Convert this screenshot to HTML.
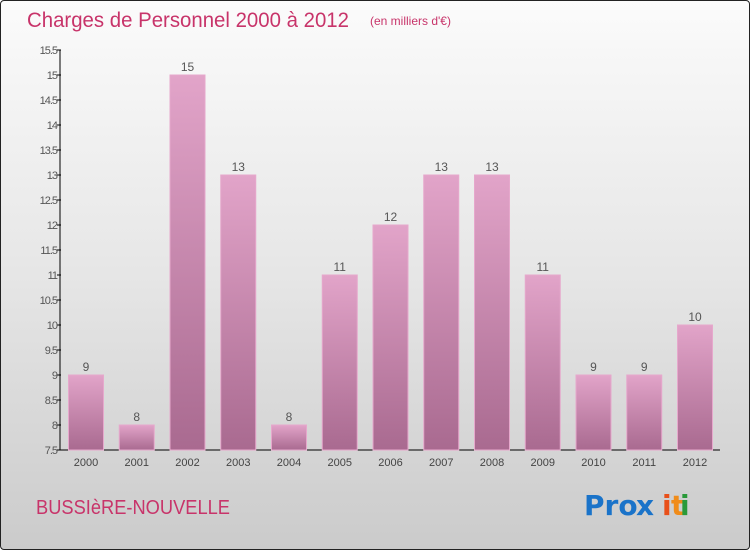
<!DOCTYPE html>
<html><head><meta charset="utf-8"><style>
body{margin:0;width:750px;height:550px;overflow:hidden;font-family:"Liberation Sans",sans-serif}
#wrap{position:absolute;left:0;top:0;width:748px;height:548px;border:1px solid #222;border-radius:4px;background:linear-gradient(#fbfbfb,#e6e6e6 50%,#cbcbcb)}
</style></head><body>
<div id="wrap">
<svg width="750" height="550" style="position:absolute;left:-1px;top:-1px">
<defs><linearGradient id="bg" x1="0" y1="0" x2="0" y2="1"><stop offset="0" stop-color="#e2a4c9"/><stop offset="1" stop-color="#a96a90"/></linearGradient></defs>
<text x="27" y="27" font-size="21" fill="#c8346a" textLength="322" lengthAdjust="spacingAndGlyphs">Charges de Personnel 2000 à 2012</text>
<text x="370" y="25" font-size="12" fill="#c8346a">(en milliers d'€)</text>
<g id="axes"></g><g id="bars"></g>
<text x="36" y="514" font-size="20" fill="#c8346a" textLength="194" lengthAdjust="spacingAndGlyphs">BUSSIèRE-NOUVELLE</text>
<g font-size="28" font-weight="bold" font-family="DejaVu Sans,sans-serif">
<text x="584" y="515" fill="#1a73c9">Pro</text><text x="636" y="515" fill="#1a73c9">x</text><text x="662" y="515" fill="#e8501a">i</text><text x="671" y="515" fill="#f08c1a">t</text><text x="680" y="515" fill="#2a9a3a">i</text>
</g>
</svg></div>
<script>
const categories=["2000","2001","2002","2003","2004","2005","2006","2007","2008","2009","2010","2011","2012"];
const values=[9,8,15,13,8,11,12,13,13,11,9,9,10];
const ticks=[7.5,8,8.5,9,9.5,10,10.5,11,11.5,12,12.5,13,13.5,14,14.5,15,15.5];
const ns="http://www.w3.org/2000/svg";
const y=v=>450-(v-7.5)*50;
const x=i=>86+i*50.75;
function mk(t,a,p){const e=document.createElementNS(ns,t);for(const k in a)e.setAttribute(k,a[k]);p.appendChild(e);return e;}
const ax=document.getElementById('axes'),bg=document.getElementById('bars');
const yl=mk('line',{x1:60,y1:50,x2:60,y2:450,stroke:'#000'},ax);


const xl=mk('line',{x1:60,y1:450,x2:720,y2:450,stroke:'#000'},ax);


ticks.forEach(t=>{
 mk('line',{x1:57,x2:61,y1:y(t),y2:y(t),stroke:'#000'},ax);
 const tx=mk('text',{x:57,y:y(t)+4,'font-size':11,'text-anchor':'end',fill:'#555','letter-spacing':'-1'},ax);
 tx.textContent=String(t);
 
 
});
categories.forEach((c,i)=>{
 const r=mk('rect',{x:x(i)-17.5,y:y(values[i]),width:35,height:450-y(values[i]),fill:'url(#bg)',stroke:'#e6a8cc','stroke-width':1},bg);
 
 
 const v=mk('text',{x:x(i),y:y(values[i])-4,'font-size':12,'text-anchor':'middle',fill:'#555'},bg);
 v.textContent=values[i];
 
 
 const l=mk('text',{x:x(i),y:466,'font-size':11,'text-anchor':'middle',fill:'#444'},bg);
 l.textContent=c;
 
 
});
</script>
</body></html>
